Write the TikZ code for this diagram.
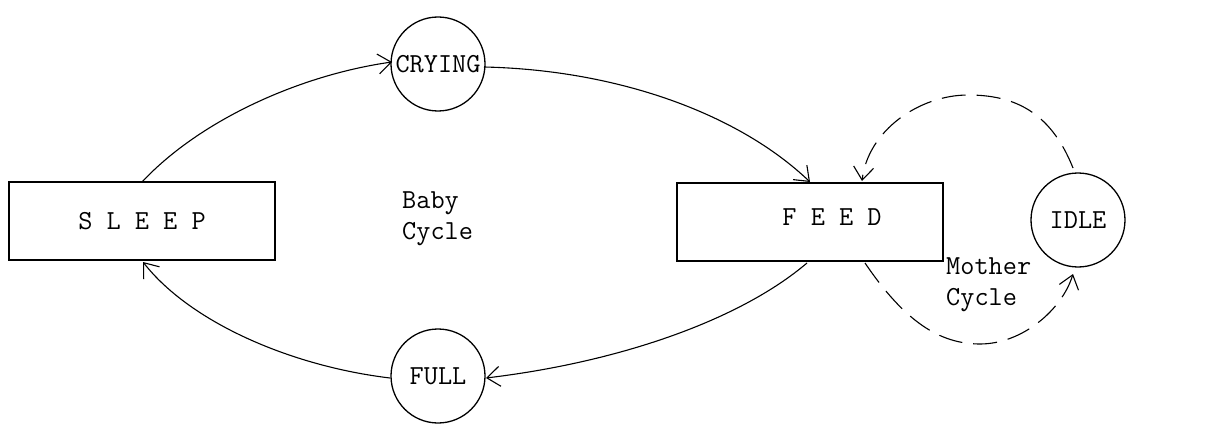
\documentclass[tikz,border=0pt]{standalone}
\usetikzlibrary{arrows.meta}
\begin{document}
\begin{tikzpicture}[x=1pt,y=-1pt,
  txt/.style={font=\ttfamily\fontsize{27.5}{31}\selectfont, inner sep=0pt},
  statebox/.style={draw, line width=1.6pt, minimum width=266pt, minimum height=78pt, inner sep=0pt},
  statecirc/.style={draw, circle, line width=1.3pt, minimum size=94pt, inner sep=0pt, font=\ttfamily\fontsize{27.5}{31}\selectfont},
  conn/.style={line width=1.1pt, -{Straight Barb[length=13pt,width=20pt,line width=1.1pt]}},
  dconn/.style={conn, dash pattern=on 24pt off 11pt}
]
\useasboundingbox (0,0) rectangle (1213,425);
\node[statebox, txt] (sleep) at (142,221) {S L E E P};
\node[statebox] (feed) at (810,222) {};
\node[txt] (feedtxt) at (832,217) {F E E D};
\node[statecirc] (crying) at (438,64) {CRYING};
\node[statecirc] (full) at (438,376) {FULL};
\node[statecirc] (idle) at (1078,220) {IDLE};
\node[txt, align=left, anchor=north west] (baby) at (402,191) {Baby\\Cycle};
\node[txt, align=left, anchor=north west] (mother) at (946,257) {Mother\\Cycle};

\coordinate (s1) at (142,182);
\coordinate (c1) at (392,62);
\coordinate (c2) at (484,67);
\coordinate (f1) at (810,182);
\coordinate (f2) at (807,263);
\coordinate (u1) at (486,378);
\coordinate (u2) at (390,378);
\coordinate (s2) at (143,262);
\coordinate (f3) at (865,263);
\coordinate (i1) at (1073,274);
\coordinate (i2) at (1073,168);
\coordinate (f4) at (862,181);

\draw[conn] (s1) .. controls (200,120) and (300,75) .. (c1);
\draw[conn] (c2) .. controls (620,70) and (740,115) .. (f1);
\draw[conn] (f2) .. controls (740,320) and (620,362) .. (u1);
\draw[conn] (u2) .. controls (290,366) and (190,322) .. (s2);
\draw[dconn] (f3) .. controls (905,322) and (940,344) .. (980,344) .. controls (1022,344) and (1062,310) .. (i1);
\draw[dconn] (i2) .. controls (1050,110) and (1012,95) .. (968,95) .. controls (920,95) and (868,130) .. (f4);
\end{tikzpicture}
\end{document}
